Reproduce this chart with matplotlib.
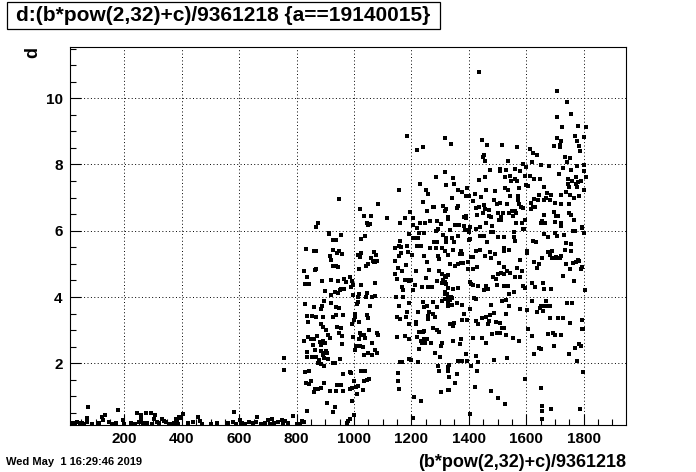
import numpy as np
import matplotlib.pyplot as plt
from matplotlib.ticker import MultipleLocator
from matplotlib.patches import Rectangle

plt.rcParams['font.family'] = ['Liberation Sans', 'DejaVu Sans']
plt.rcParams['font.weight'] = 'bold'

title = "d:(b*pow(2,32)+c)/9361218 {a==19140015}"
x_label = "(b*pow(2,32)+c)/9361218"
y_label = "d"
stamp = "Wed May  1 16:29:46 2019"
x_ticks = [200, 400, 600, 800, 1000, 1200, 1400, 1600, 1800]
y_ticks = [2, 4, 6, 8, 10]

# low band, x < 800
low_pts = [
    (12, 0.18), (20, 0.2), (28, 0.17), (36, 0.22), (44, 0.19), (52, 0.21), (60, 0.17),
    (68, 0.23), (86, 0.18), (112, 0.2), (148, 0.22), (160, 0.17), (172, 0.2), (200, 0.18),
    (224, 0.21), (238, 0.17), (252, 0.23), (266, 0.19), (280, 0.21), (296, 0.18),
    (312, 0.24), (322, 0.2), (346, 0.22), (360, 0.18), (374, 0.21), (388, 0.17),
    (420, 0.2), (440, 0.23), (472, 0.18), (500, 0.17), (522, 0.19), (560, 0.21),
    (590, 0.18), (608, 0.2), (620, 0.17), (634, 0.22), (648, 0.19), (660, 0.23),
    (676, 0.18), (690, 0.21), (706, 0.17), (722, 0.2), (736, 0.23), (752, 0.18), (770, 0.2),
    (74, 0.69), (179, 0.59), (133, 0.45), (71, 0.34), (121, 0.39), (127, 0.29),
    (194, 0.29), (243, 0.49), (258, 0.32), (257, 0.45), (276, 0.49), (293, 0.49),
    (308, 0.44), (330, 0.32), (337, 0.27), (303, 0.32), (382, 0.29), (378, 0.33),
    (394, 0.34), (389, 0.37), (405, 0.46), (458, 0.37), (464, 0.27), (583, 0.52),
    (580, 0.24), (603, 0.29), (663, 0.37), (702, 0.29), (715, 0.32), (748, 0.29),
    (761, 0.27), (757, 2.15), (757, 1.79),
]

# 780 - 1335
mid_pts = [
    (1186, 8.85), (1220, 8.43), (1241, 8.52), (1318, 8.79), (1318, 7.77), (1287, 7.61),
    (1230, 7.40), (1322, 7.39), (1158, 7.24), (1251, 7.24), (1256, 7.12), (949, 6.95),
    (1085, 6.80), (1241, 6.86), (1274, 6.72), (1279, 6.72), (1311, 6.76), (1022, 6.67),
    (1253, 6.61), (1318, 6.60), (1196, 6.57), (1035, 6.46), (1059, 6.46), (1116, 6.37),
    (1178, 6.39), (1204, 6.38), (1327, 6.42), (1045, 6.24), (1056, 6.21), (1050, 6.16),
    (1161, 6.22), (1230, 6.22), (1247, 6.23), (1205, 6.17), (1218, 6.09), (1263, 6.30),
    (1289, 6.28), (1302, 6.19), (876, 6.22), (869, 6.10), (1286, 6.00), (1292, 6.06),
    (913, 5.94), (914, 5.90), (955, 5.87), (1190, 5.90), (1227, 5.94), (1244, 5.94),
    (1039, 5.84), (1207, 5.78), (1215, 5.78), (1224, 5.78), (1025, 5.74), (1319, 5.79),
    (927, 5.72), (936, 5.72), (1277, 5.66), (1290, 5.66), (1160, 5.70), (1311, 5.87),
    (1144, 5.47), (1157, 5.54), (1162, 5.52), (1183, 5.54), (1218, 5.54), (1233, 5.54),
    (1265, 5.47), (1284, 5.47), (1305, 5.47), (833, 5.44), (859, 5.40), (869, 5.38),
    (926, 5.42), (949, 5.40), (942, 5.34), (957, 5.30), (1024, 5.32), (1013, 5.26),
    (1020, 5.20), (1070, 5.37), (1075, 5.27), (1058, 5.18), (1065, 5.10), (1068, 5.06),
    (1079, 5.10), (1073, 5.06), (917, 5.24), (921, 5.12), (1164, 5.34), (1188, 5.37),
    (1158, 5.24), (1142, 5.08), (1201, 5.26), (1243, 5.24), (1253, 5.06), (1291, 5.24),
    (1296, 5.14), (1318, 5.38), (1327, 5.26), (936, 4.95), (928, 4.93), (944, 4.91),
    (1041, 4.93), (1018, 4.85), (1049, 5.01), (827, 4.78), (868, 4.85), (864, 4.81),
    (1152, 4.87), (1180, 4.98), (1166, 4.79), (1217, 4.80), (1261, 4.83), (1297, 4.79),
    (1308, 4.68), (1316, 4.63), (1328, 4.65), (835, 4.61), (1143, 4.68), (1149, 4.54),
    (986, 4.59), (887, 4.49), (920, 4.51), (943, 4.49), (971, 4.45), (993, 4.49),
    (965, 4.55), (830, 4.38), (843, 4.39), (1023, 4.35), (1073, 4.41), (1176, 4.51),
    (1186, 4.51), (1193, 4.49), (1198, 4.51), (1289, 4.49), (1252, 4.57), (1256, 4.29),
    (1273, 4.31), (1305, 4.43), (1311, 4.51), (1317, 4.45), (1212, 4.36), (1167, 4.31),
    (1172, 4.22), (1207, 4.21), (1236, 4.29), (899, 4.18), (951, 4.21), (953, 4.24),
    (965, 4.25), (991, 4.31), (996, 4.35), (933, 4.16), (944, 4.12), (921, 4.05),
    (995, 4.05), (1017, 4.10), (1014, 4.00), (1046, 4.11), (1043, 4.01), (1061, 4.01),
    (1072, 4.02), (1317, 4.14), (1325, 4.09), (1146, 3.99), (1169, 3.99), (830, 3.78),
    (894, 3.87), (887, 3.74), (919, 3.81), (862, 3.69), (885, 3.63), (936, 3.71),
    (948, 3.68), (1010, 3.80), (1056, 3.73), (1015, 3.85), (1190, 3.82), (1155, 3.73),
    (1239, 3.86), (1253, 3.73), (1244, 3.71), (1276, 3.85), (1288, 3.71), (1308, 3.89),
    (1317, 3.94), (1326, 3.94), (837, 3.43), (855, 3.42), (868, 3.41), (893, 3.41),
    (928, 3.39), (936, 3.45), (963, 3.47), (1005, 3.49), (1002, 3.41), (1045, 3.45),
    (1049, 3.37), (999, 3.31), (992, 3.18), (1018, 3.25), (1151, 3.41), (1160, 3.34),
    (1186, 3.55), (1180, 3.41), (1224, 3.56), (1262, 3.55), (1259, 3.44), (1274, 3.49),
    (1281, 3.39), (1259, 3.33), (841, 3.26), (884, 3.20), (893, 3.10), (902, 3.00),
    (940, 3.09), (953, 3.06), (909, 2.84), (949, 2.90), (957, 2.82), (1020, 2.92),
    (1024, 2.84), (1035, 2.84), (1053, 3.00), (1081, 2.92), (1085, 2.84), (1190, 3.20),
    (1216, 3.25), (1216, 3.18), (1225, 2.95), (1239, 2.95), (1244, 2.98), (1288, 3.00),
    (1276, 3.06), (1295, 2.94), (840, 2.80), (849, 2.74), (862, 2.74), (872, 2.82),
    (856, 2.72), (882, 2.64), (892, 2.68), (899, 2.60), (885, 2.54), (916, 2.75),
    (957, 2.58), (998, 2.80), (1016, 2.72), (1030, 2.50), (1037, 2.75), (1061, 2.62),
    (1151, 2.80), (1176, 2.82), (1193, 2.72), (1219, 2.78), (1236, 2.62), (1244, 2.62),
    (1232, 2.67), (1245, 2.72), (1255, 2.72), (1248, 2.60), (1269, 2.62), (1308, 2.60),
    (1304, 2.52), (1335, 3.18), (827, 2.66), (858, 2.56), (864, 2.40), (835, 2.35),
    (884, 2.36), (891, 2.26), (901, 2.38), (898, 2.32), (905, 2.30), (836, 2.18),
    (852, 2.18), (866, 2.18), (879, 2.10), (894, 2.15), (909, 2.14), (1003, 2.40),
    (1007, 2.52), (1021, 2.52), (1035, 2.24), (1049, 2.32), (1064, 2.24), (1074, 2.40),
    (1081, 2.32), (1227, 2.42), (1283, 2.32), (1298, 2.20), (876, 2.02), (886, 1.97),
    (926, 2.02), (933, 2.02), (950, 2.12), (1160, 2.05), (1167, 2.05), (1190, 2.12),
    (1200, 2.10), (1222, 2.04), (897, 1.93), (828, 1.73), (842, 1.76), (963, 1.68),
    (986, 1.75), (991, 1.70), (1023, 1.78), (1039, 1.78), (1152, 1.72), (1296, 1.78),
    (1292, 1.92), (1330, 1.94), (832, 1.41), (843, 1.38), (849, 1.47), (894, 1.40),
    (940, 1.33), (955, 1.33), (1053, 1.53), (1046, 1.49), (1035, 1.45), (1001, 1.45),
    (1015, 1.30), (1006, 1.29), (865, 1.22), (876, 1.23), (884, 1.24), (862, 1.12),
    (916, 1.17), (937, 1.17), (963, 1.15), (986, 1.21), (994, 1.24), (1032, 1.18),
    (1154, 1.47), (1157, 1.22), (1302, 1.13), (1327, 1.20), (993, 0.85), (1010, 1.06),
    (905, 0.80), (935, 0.69), (926, 0.53), (835, 0.56), (1209, 0.98), (1233, 0.86),
    (786, 0.41), (820, 0.26), (826, 0.22), (979, 0.25), (986, 0.31), (1001, 0.45),
    (1207, 0.35), (800, 0.16), (812, 0.16), (974, 0.19),
]

# 1317 - 1830, d above ~5.7
high_pts = [
    (1437, 10.78), (1708, 10.21), (1743, 9.88), (1757, 9.52), (1726, 9.12), (1707, 9.42),
    (1781, 9.15), (1809, 9.12), (1770, 8.85), (1802, 8.82), (1707, 8.79), (1722, 8.72),
    (1719, 8.59), (1719, 8.52), (1698, 8.55), (1339, 8.61), (1446, 8.73), (1464, 8.58),
    (1517, 8.58), (1569, 8.52), (1614, 8.46), (1623, 8.36), (1637, 8.28), (1777, 8.70),
    (1785, 8.56), (1788, 8.42), (1734, 8.24), (1754, 8.19), (1742, 8.09), (1454, 8.28),
    (1451, 8.23), (1457, 8.10), (1538, 8.11), (1621, 8.09), (1588, 8.01), (1599, 7.92),
    (1650, 7.99), (1680, 7.94), (1729, 7.89), (1755, 7.84), (1778, 7.95), (1801, 7.98),
    (1803, 7.81), (1809, 7.62), (1473, 7.84), (1510, 7.87), (1510, 7.81), (1531, 7.82),
    (1560, 7.86), (1578, 7.80), (1596, 7.66), (1614, 7.66), (1626, 7.57), (1647, 7.55),
    (1715, 7.71), (1745, 7.57), (1760, 7.51), (1774, 7.61), (1781, 7.46), (1792, 7.49),
    (1345, 7.59), (1437, 7.52), (1455, 7.61), (1526, 7.63), (1543, 7.65), (1562, 7.57),
    (1546, 7.49), (1567, 7.49), (1600, 7.39), (1605, 7.35), (1350, 7.40), (1745, 7.41),
    (1748, 7.33), (1774, 7.41), (1778, 7.33), (1803, 7.23), (1363, 7.23), (1375, 7.16),
    (1394, 7.29), (1396, 7.06), (1402, 7.06), (1390, 7.05), (1421, 7.10), (1459, 7.23),
    (1492, 7.19), (1526, 7.29), (1535, 7.22), (1574, 7.29), (1662, 7.32), (1671, 7.15),
    (1722, 7.09), (1737, 7.16), (1767, 6.99), (1783, 7.04), (1341, 7.00), (1363, 6.75),
    (1359, 6.69), (1322, 6.65), (1444, 7.02), (1434, 6.72), (1426, 6.70), (1413, 6.89),
    (1452, 6.77), (1469, 6.62), (1488, 6.92), (1498, 6.82), (1509, 6.85), (1518, 6.53),
    (1533, 6.81), (1545, 7.05), (1572, 7.05), (1572, 6.93), (1576, 6.81), (1583, 6.71),
    (1588, 6.68), (1618, 6.83), (1626, 6.97), (1646, 7.07), (1641, 6.92), (1662, 6.92),
    (1670, 7.00), (1686, 7.07), (1684, 6.93), (1701, 6.83), (1722, 6.82), (1749, 6.81),
    (1752, 7.07), (1624, 6.72), (1615, 6.67), (1632, 6.71), (1550, 6.61), (1561, 6.61),
    (1565, 6.55), (1555, 6.46), (1539, 6.53), (1511, 6.43), (1503, 6.53), (1457, 6.67),
    (1449, 6.53), (1470, 6.45), (1476, 6.43), (1428, 6.48), (1389, 6.45), (1383, 6.41),
    (1326, 6.36), (1390, 6.38), (1352, 6.16), (1366, 6.16), (1382, 6.15), (1405, 6.11),
    (1399, 6.03), (1388, 6.03), (1424, 6.04), (1439, 6.11), (1461, 6.23), (1481, 6.13),
    (1506, 6.33), (1513, 6.33), (1563, 6.23), (1586, 6.23), (1592, 6.05), (1596, 6.33),
    (1650, 6.22), (1666, 6.23), (1661, 6.47), (1654, 6.30), (1697, 6.56), (1705, 6.45),
    (1711, 6.45), (1701, 6.25), (1722, 6.23), (1720, 6.13), (1749, 6.53), (1756, 6.47),
    (1767, 6.31), (1794, 6.12), (1793, 6.08), (1762, 5.99), (1771, 5.99), (1802, 5.92),
    (1336, 6.01), (1401, 5.96), (1395, 6.01), (1438, 5.85), (1452, 5.85), (1477, 5.96),
    (1483, 5.96), (1503, 5.82), (1524, 5.82), (1557, 5.96), (1557, 5.82), (1589, 6.06),
    (1663, 5.91), (1677, 5.82), (1701, 5.92), (1706, 5.85), (1730, 5.87), (1340, 5.77),
    (1361, 5.85), (1405, 5.76),
]

# 1317 - 1830, d below ~5.7
right_pts = [
    (1401, 5.71), (1464, 5.66), (1561, 5.70), (1622, 5.69), (1633, 5.65), (1737, 5.62),
    (1757, 5.61), (1320, 5.65), (1350, 5.65), (1372, 5.40), (1345, 5.41), (1369, 5.29),
    (1377, 5.29), (1333, 5.01), (1352, 4.95), (1363, 5.00), (1372, 5.03), (1381, 5.03),
    (1397, 5.07), (1398, 4.84), (1415, 4.85), (1430, 4.90), (1408, 5.20), (1415, 5.20),
    (1426, 5.40), (1438, 5.43), (1457, 5.23), (1473, 5.36), (1478, 5.19), (1491, 5.29),
    (1521, 5.40), (1524, 5.47), (1541, 5.41), (1579, 5.13), (1604, 5.39), (1603, 5.32),
    (1626, 5.07), (1636, 4.88), (1644, 4.99), (1654, 5.19), (1675, 5.35), (1691, 5.38),
    (1684, 5.27), (1689, 5.17), (1700, 5.19), (1705, 5.22), (1709, 5.19), (1716, 5.19),
    (1720, 5.25), (1735, 5.42), (1756, 5.40), (1737, 5.00), (1751, 4.84), (1762, 5.03),
    (1772, 5.05), (1781, 5.13), (1784, 5.09), (1796, 4.91), (1791, 4.85), (1729, 4.63),
    (1766, 4.47), (1506, 5.02), (1523, 4.90), (1534, 4.79), (1512, 4.72), (1503, 4.69),
    (1521, 4.69), (1542, 4.71), (1569, 4.87), (1584, 4.79), (1485, 4.60), (1496, 4.54),
    (1497, 4.36), (1521, 4.32), (1538, 4.32), (1562, 4.59), (1579, 4.61), (1588, 4.33),
    (1596, 4.28), (1620, 4.43), (1630, 4.29), (1660, 4.41), (1663, 4.24), (1686, 4.24),
    (1433, 4.33), (1416, 4.36), (1404, 4.46), (1409, 4.38), (1459, 4.33), (1468, 4.24),
    (1454, 4.20), (1329, 4.26), (1345, 4.24), (1361, 4.28), (1317, 4.10), (1319, 3.93),
    (1326, 3.96), (1338, 4.01), (1343, 3.98), (1334, 3.90), (1326, 3.86), (1340, 3.76),
    (1329, 3.73), (1358, 3.81), (1375, 3.76), (1418, 3.98), (1424, 3.95), (1405, 3.64),
    (1384, 3.48), (1377, 3.30), (1392, 3.30), (1336, 3.18), (1347, 3.21), (1344, 3.14),
    (1424, 3.28), (1433, 3.19), (1445, 3.38), (1459, 3.41), (1475, 3.46), (1489, 3.51),
    (1471, 3.28), (1466, 3.20), (1493, 3.24), (1509, 3.23), (1529, 3.49), (1516, 3.06),
    (1523, 3.06), (1541, 3.74), (1557, 4.14), (1541, 4.08), (1529, 3.91), (1514, 3.88),
    (1476, 3.75), (1605, 3.02), (1579, 3.64), (1603, 3.60), (1621, 3.87), (1639, 3.54),
    (1647, 3.68), (1653, 3.72), (1665, 3.74), (1670, 3.74), (1682, 3.74), (1668, 3.88),
    (1658, 3.59), (1683, 3.36), (1709, 3.36), (1729, 3.38), (1743, 3.81), (1761, 3.81),
    (1752, 3.22), (1795, 3.32), (1793, 3.04), (1798, 3.03), (1344, 2.66), (1372, 2.73),
    (1368, 2.57), (1415, 2.75), (1447, 2.75), (1461, 2.61), (1482, 2.88), (1497, 2.90),
    (1509, 2.90), (1531, 2.86), (1554, 2.75), (1575, 2.67), (1620, 2.82), (1676, 2.88),
    (1694, 2.90), (1701, 2.84), (1721, 2.85), (1643, 2.45), (1653, 2.42), (1628, 2.29),
    (1698, 2.52), (1750, 2.29), (1771, 2.45), (1785, 2.59), (1791, 2.53), (1391, 2.27),
    (1395, 2.08), (1361, 2.06), (1377, 2.07), (1426, 2.21), (1431, 2.05), (1487, 2.11),
    (1534, 2.15), (1777, 2.08), (1326, 1.90), (1329, 1.77), (1332, 1.58), (1353, 1.41),
    (1360, 1.68), (1332, 1.18), (1409, 1.91), (1428, 1.76), (1423, 1.27), (1478, 1.15),
    (1503, 0.94), (1527, 0.76), (1597, 1.53), (1653, 1.24), (1655, 0.70), (1656, 0.57),
    (1687, 0.62), (1788, 0.62), (1798, 1.73), (1403, 0.47), (1655, 0.32), (1805, 4.20),
    (1319, 4.59), (1319, 4.38),
]

fig = plt.figure(figsize=(6.96, 4.72), dpi=100)
ax = fig.add_axes([0.1, 0.1, 0.8, 0.8])

for pts in [low_pts, mid_pts, high_pts, right_pts]:
    arr = np.array(pts)
    ax.plot(arr[:, 0], arr[:, 1], 's', color='black', ms=2.2, mew=0, zorder=3)

ax.set_xlim(9, 1949)
ax.set_ylim(0.143, 11.54)
ax.set_xticks(x_ticks)
ax.set_yticks(y_ticks)
ax.xaxis.set_minor_locator(MultipleLocator(50))
ax.yaxis.set_minor_locator(MultipleLocator(0.5))
ax.tick_params(which='both', direction='in', top=False, right=False, width=0.8,
               labelsize=11, colors='black')
ax.tick_params(which='major', length=8, pad=5)
ax.tick_params(which='minor', length=4)
for lab in ax.get_xticklabels() + ax.get_yticklabels():
    lab.set_fontweight('bold')
for sp in ax.spines.values():
    sp.set_linewidth(0.8)

ax.grid(True, which='major', color='black', lw=0.7, linestyle=(0, (1, 2.5)), zorder=1)

fig.text(0.9, 0.021, x_label, ha='right', va='center', fontsize=13, fontweight='bold')
fig.text(0.047, 0.9, y_label, rotation=90, ha='center', va='top', fontsize=13,
         fontweight='bold')
fig.text(0.008, 0.021, stamp, ha='left', va='center', fontsize=8, fontweight='bold')

# title box
fig.patches.append(Rectangle((0.0105, 0.9386), 0.6217, 0.0566, transform=fig.transFigure,
                             facecolor='white', edgecolor='black', lw=0.9))
fig.text(0.3213, 0.967, title, ha='center', va='center', fontsize=15, fontweight='bold')

fig.savefig('out.png', dpi=100)
